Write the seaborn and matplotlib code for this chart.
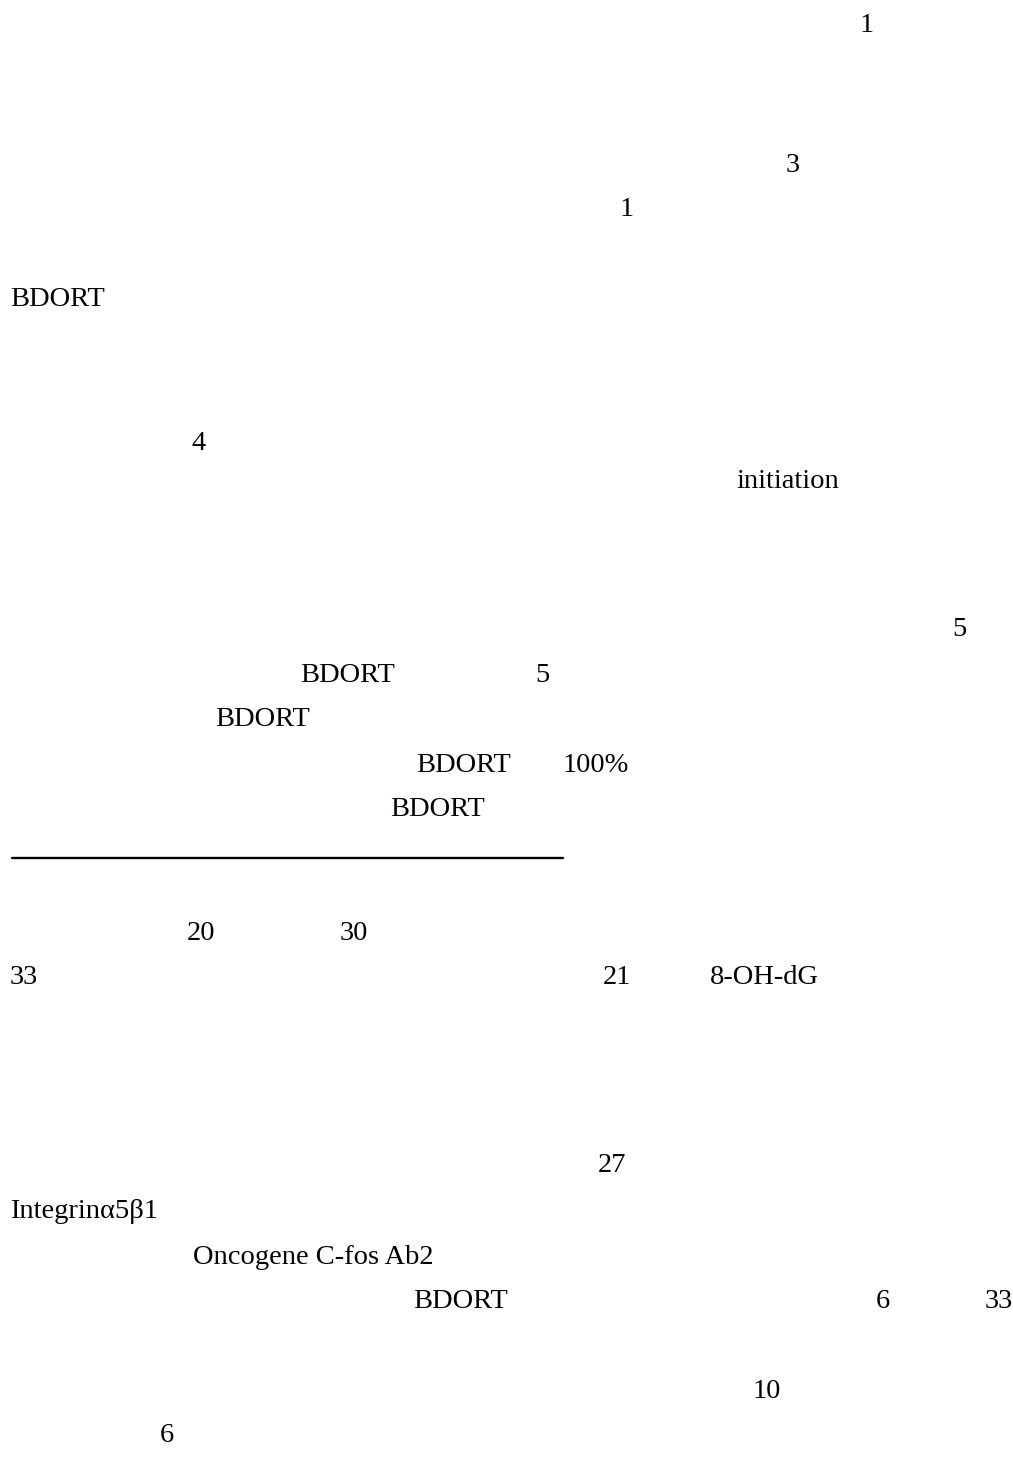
import matplotlib
matplotlib.use("Agg")
import matplotlib.pyplot as plt
import seaborn as sns
import pandas as pd

# Visible text fragments of the page (only Latin glyphs survive)
fragments = ["1", "3", "1", "BDORT", "4", "initiation", "5",
             "BDORT", "5", "BDORT", "BDORT", "100%", "BDORT",
             "20", "30", "33", "21", "8-OH-dG", "27",
             "Integrinα5β1", "Oncogene C-fos Ab2",
             "BDORT", "6", "33", "10", "6"]
frag_x = [860, 786, 620, 10, 192, 736, 952,
          300, 535, 215, 416, 563, 390,
          187, 340, 10, 603, 710, 598,
          10, 193,
          413, 876, 985, 753, 160]
frag_y = [22, 162, 207, 297, 440, 478, 627,
          672, 672, 717, 762, 762, 807,
          930, 930, 975, 975, 975, 1163,
          1208, 1255,
          1298, 1298, 1298, 1388, 1433]

# Footnote rule
rule_x = [12, 563]
rule_y = [858, 858]

sns.set_theme(style="white")
plt.rcParams['font.family'] = ['Liberation Serif', 'DejaVu Serif']

W, H = 1013, 1457
fig = plt.figure(figsize=(W / 100, H / 100), dpi=100)
ax = fig.add_axes([0, 0, 1, 1])
ax.set_xlim(0, W)
ax.set_ylim(H, 0)
ax.axis("off")

rule = pd.DataFrame({"x": rule_x, "y": rule_y})
sns.lineplot(data=rule, x="x", y="y", color="black", linewidth=1.7, ax=ax,
             estimator=None, sort=False)

df = pd.DataFrame({"text": fragments, "x": frag_x, "y": frag_y})
for _, r in df.iterrows():
    ax.text(r["x"], r["y"] + 9.5, r["text"], fontsize=20.5, color="black",
            ha="left", va="baseline")

ax.set_xlim(0, W)
ax.set_ylim(H, 0)
fig.savefig("out.png", dpi=100, facecolor="white")
